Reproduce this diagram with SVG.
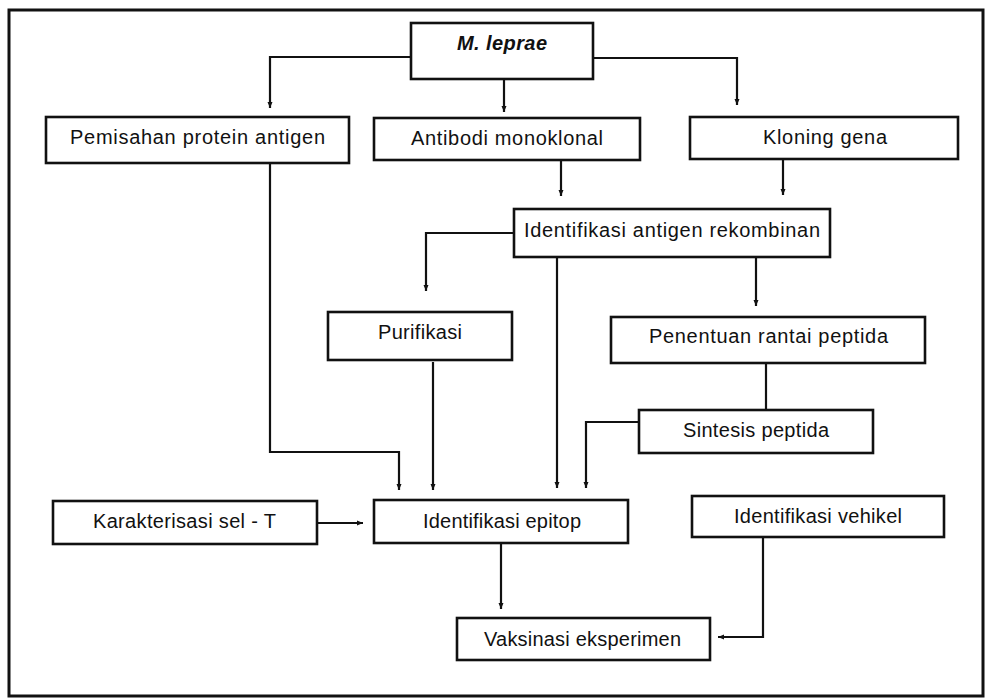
<svg xmlns="http://www.w3.org/2000/svg" width="990" height="698" viewBox="0 0 990 698">
<defs>
<marker id="ah" markerUnits="userSpaceOnUse" markerWidth="7" markerHeight="7" refX="6" refY="3" orient="auto">
<path d="M0,0.5 L6,3 L0,5.5 z" fill="#111"/>
</marker>
<style>
.box{fill:#fff;stroke:#111;stroke-width:2.6}
.t{font-family:"Liberation Sans",Arial,Helvetica,sans-serif;font-size:20px;fill:#111;text-anchor:middle}
.bi{font-weight:bold;font-style:italic}
.c{fill:none;stroke:#111;stroke-width:2.2;marker-end:url(#ah)}
.n{fill:none;stroke:#111;stroke-width:2.2}
</style>
</defs>
<rect x="0" y="0" width="990" height="698" fill="#fff"/>
<rect x="9" y="10" width="974" height="686" fill="none" stroke="#111" stroke-width="3"/>

<g id="connectors">
<path class="c" d="M411,57 H270 V108"/>
<path class="c" d="M504,79 V112"/>
<path class="c" d="M593,58 H737 V105"/>
<path class="c" d="M561,160 V196"/>
<path class="c" d="M783,159 V195"/>
<path class="c" d="M514,233 H426 V291"/>
<path class="c" d="M756,257 V306"/>
<path class="n" d="M766,363 V410"/>
<path class="c" d="M270,163 V452 H399 V490"/>
<path class="c" d="M433,362 V490"/>
<path class="c" d="M557,257 V488"/>
<path class="c" d="M639,422 H586 V488"/>
<path class="c" d="M317,523 H363"/>
<path class="c" d="M501,543 V609"/>
<path class="c" d="M763,537 V637 H718"/>
</g>

<g id="mleprae"><rect class="box" x="411" y="23" width="182" height="56"/><text class="t bi" x="502" y="50" textLength="90" lengthAdjust="spacing">M. leprae</text></g>
<g id="pemisahan"><rect class="box" x="46" y="117" width="303" height="46"/><text class="t" x="197.5" y="144" textLength="255" lengthAdjust="spacing">Pemisahan protein antigen</text></g>
<g id="antibodi"><rect class="box" x="374" y="118" width="266" height="42"/><text class="t" x="507" y="145" textLength="192" lengthAdjust="spacing">Antibodi monoklonal</text></g>
<g id="kloning"><rect class="box" x="690" y="117" width="268" height="42"/><text class="t" x="825" y="144" textLength="124" lengthAdjust="spacing">Kloning gena</text></g>
<g id="rekombinan"><rect class="box" x="514" y="209" width="316" height="48"/><text class="t" x="672" y="237" textLength="296" lengthAdjust="spacing">Identifikasi antigen rekombinan</text></g>
<g id="purifikasi"><rect class="box" x="328" y="312" width="184" height="48"/><text class="t" x="420" y="339" textLength="84" lengthAdjust="spacing">Purifikasi</text></g>
<g id="penentuan"><rect class="box" x="611" y="317" width="314" height="46"/><text class="t" x="768.5" y="343" textLength="239" lengthAdjust="spacing">Penentuan rantai peptida</text></g>
<g id="sintesis"><rect class="box" x="639" y="410" width="234" height="43"/><text class="t" x="756" y="437" textLength="146" lengthAdjust="spacing">Sintesis peptida</text></g>
<g id="karakterisasi"><rect class="box" x="53" y="501" width="264" height="43"/><text class="t" x="184.5" y="528" textLength="183" lengthAdjust="spacing">Karakterisasi sel - T</text></g>
<g id="epitop"><rect class="box" x="374" y="500" width="254" height="43"/><text class="t" x="502" y="528" textLength="158" lengthAdjust="spacing">Identifikasi epitop</text></g>
<g id="vehikel"><rect class="box" x="692" y="496" width="252" height="41"/><text class="t" x="818" y="523" textLength="168" lengthAdjust="spacing">Identifikasi vehikel</text></g>
<g id="vaksinasi"><rect class="box" x="457" y="618" width="253" height="42"/><text class="t" x="582.5" y="646" textLength="197" lengthAdjust="spacing">Vaksinasi eksperimen</text></g>
</svg>
